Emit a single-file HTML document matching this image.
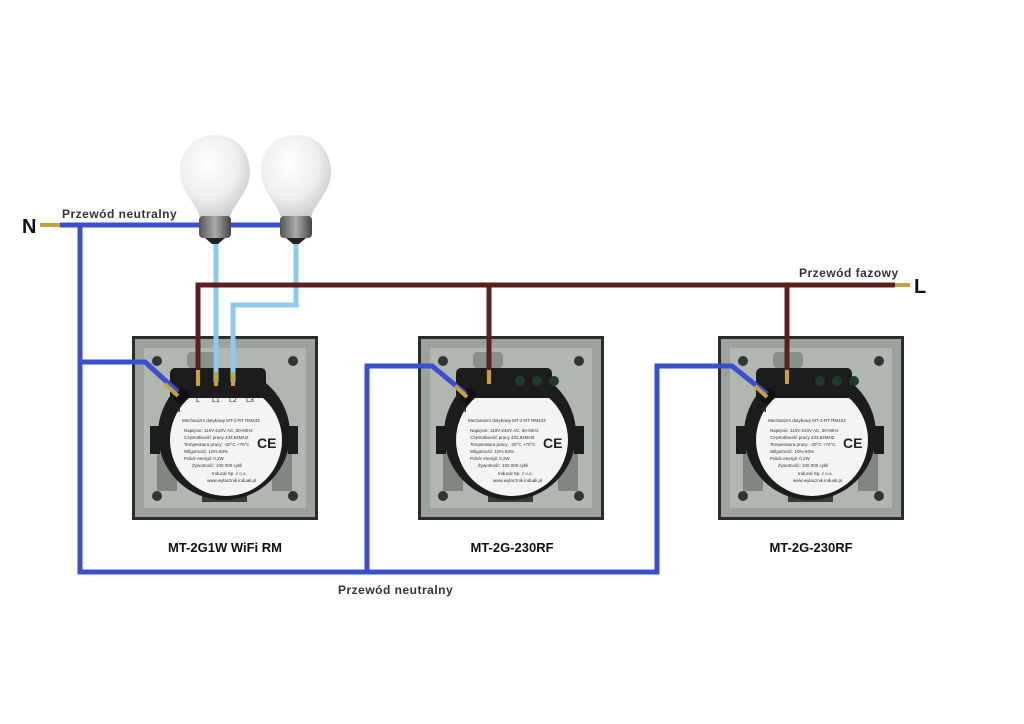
<!DOCTYPE html>
<html><head><meta charset="utf-8"><style>
html,body{margin:0;padding:0;background:#fff;}
svg{display:block;font-family:"Liberation Sans",sans-serif;}
</style></head><body>
<svg width="1024" height="724" viewBox="0 0 1024 724" xmlns="http://www.w3.org/2000/svg">
<defs>
<radialGradient id="bulb" cx="0.4" cy="0.35" r="0.7">
<stop offset="0" stop-color="#ffffff"/><stop offset="0.6" stop-color="#eeeeee"/><stop offset="1" stop-color="#c8c8c8"/>
</radialGradient>
<linearGradient id="base" x1="0" x2="1"><stop offset="0" stop-color="#555"/><stop offset="0.5" stop-color="#aaa"/><stop offset="1" stop-color="#444"/></linearGradient>
<clipPath id="lab"><rect x="20" y="62" width="150" height="120"/></clipPath>
<g id="sw">
<rect x="0" y="0" width="186" height="184" fill="#2b2d2b"/>
<rect x="3" y="3" width="180" height="178" fill="#9ca39d"/>
<rect x="12" y="12" width="162" height="160" fill="#b0b6b0"/>
<circle cx="25" cy="25" r="5" fill="#333"/><circle cx="161" cy="25" r="5" fill="#333"/>
<circle cx="25" cy="160" r="5" fill="#333"/><circle cx="161" cy="160" r="5" fill="#333"/>
<rect x="55" y="16" width="30" height="16" rx="4" fill="#8a918b"/>
<rect x="25" y="115" width="20" height="40" fill="#808780"/><rect x="140" y="115" width="20" height="40" fill="#808780"/>
<rect x="70" y="150" width="45" height="16" fill="#3a3a3a"/>
<circle cx="92" cy="98" r="66" fill="#1c1c1c"/>
<rect x="38" y="32" width="96" height="32" rx="5" fill="#1c1c1c"/>
<rect x="18" y="90" width="10" height="28" fill="#1c1c1c"/><rect x="156" y="90" width="10" height="28" fill="#1c1c1c"/>
<circle cx="50" cy="60" r="8" fill="#111"/>
<circle cx="94" cy="104" r="56" fill="#f4f4f2" clip-path="url(#lab)"/>
<g font-size="4.5" fill="#333">
<text x="50" y="86">Mechanizm dotykowy MT-2-RT RM433</text>
<text x="52" y="96">Napięcie: 110V-240V AC, 50-60Hz</text>
<text x="52" y="103">Częstotliwość pracy 433,92MHZ</text>
<text x="52" y="110">Temperatura pracy: -20°C +70°C</text>
<text x="52" y="117">Wilgotność: 10%-93%</text>
<text x="52" y="124">Pobór energii: 0,2W</text>
<text x="60" y="131">Żywotność: 100 000 cykli</text>
<text x="80" y="139">Inducal Sp. z o.o.</text>
<text x="75" y="146">www.wylacznik.induali.pl</text>
</g>
<text x="125" y="112" font-size="14" font-weight="bold" fill="#222">CE</text>
<text x="44" y="76" font-size="6" font-weight="bold" fill="#222">N</text>
</g>
</defs>

<use href="#sw" x="132" y="336"/>
<use href="#sw" x="418" y="336"/>
<use href="#sw" x="718" y="336"/>
<g fill="#1d3b2a"><circle cx="520" cy="381" r="5"/><circle cx="537" cy="381" r="5"/><circle cx="554" cy="381" r="5"/>
<circle cx="820" cy="381" r="5"/><circle cx="837" cy="381" r="5"/><circle cx="854" cy="381" r="5"/></g>

<g fill="none" stroke="#3a4fd0" stroke-width="5" stroke-linejoin="miter">
<path d="M60 225 H280"/>
<path d="M80 225 V572 H657 V366 H732 L767 394"/>
<path d="M80 362 H145 L178 392"/>
<path d="M367 572 V366 H432 L466 394"/>
</g>
<g fill="none" stroke="#8ec9ee" stroke-width="5">
<path d="M216 240 V382"/>
<path d="M296 240 V305 H233 V382"/>
</g>
<g fill="none" stroke="#5a2020" stroke-width="5">
<path d="M895 285 H198 V382"/>
<path d="M489 285 V380"/>
<path d="M787 285 V380"/>
</g>
<g stroke="#c9a040" stroke-width="4">
<path d="M40 225 H60"/><path d="M895 285 H910"/>
<path d="M198 370 V386"/><path d="M216 372 V386"/><path d="M233 372 V386"/>
<path d="M489 370 V384"/><path d="M787 370 V384"/>
<path d="M165 384 L178 396"/><path d="M455 386 L467 397"/><path d="M755 386 L767 397"/>
</g>
<g font-size="7" fill="#222"><text x="196" y="402">L</text><text x="212" y="402">L1</text><text x="229" y="402">L2</text><text x="246" y="402">L3</text></g>

<g>
<path d="M215 135 C190 135 180 155 180 172 C180 192 198 205 200 218 H230 C232 205 250 192 250 172 C250 155 240 135 215 135 Z" fill="url(#bulb)"/>
<rect x="199" y="216" width="32" height="22" rx="4" fill="url(#base)"/>
<path d="M205 238 H225 L218 244 H212 Z" fill="#222"/>
<path d="M296 135 C271 135 261 155 261 172 C261 192 279 205 281 218 H311 C313 205 331 192 331 172 C331 155 321 135 296 135 Z" fill="url(#bulb)"/>
<rect x="280" y="216" width="32" height="22" rx="4" fill="url(#base)"/>
<path d="M286 238 H306 L299 244 H293 Z" fill="#222"/>
</g>

<text x="22" y="233" font-size="20" font-weight="bold" fill="#111">N</text>
<text x="914" y="293" font-size="20" font-weight="bold" fill="#111">L</text>
<text x="62" y="218" font-size="12" font-weight="bold" fill="#333" letter-spacing="0.5">Przewód neutralny</text>
<text x="799" y="277" font-size="12" font-weight="bold" fill="#333" letter-spacing="0.5">Przewód fazowy</text>
<text x="338" y="594" font-size="12" font-weight="bold" fill="#333" letter-spacing="0.5">Przewód neutralny</text>
<text x="225" y="552" font-size="13" font-weight="bold" fill="#111" text-anchor="middle">MT-2G1W WiFi RM</text>
<text x="512" y="552" font-size="13" font-weight="bold" fill="#111" text-anchor="middle">MT-2G-230RF</text>
<text x="811" y="552" font-size="13" font-weight="bold" fill="#111" text-anchor="middle">MT-2G-230RF</text>
</svg>
</body></html>
